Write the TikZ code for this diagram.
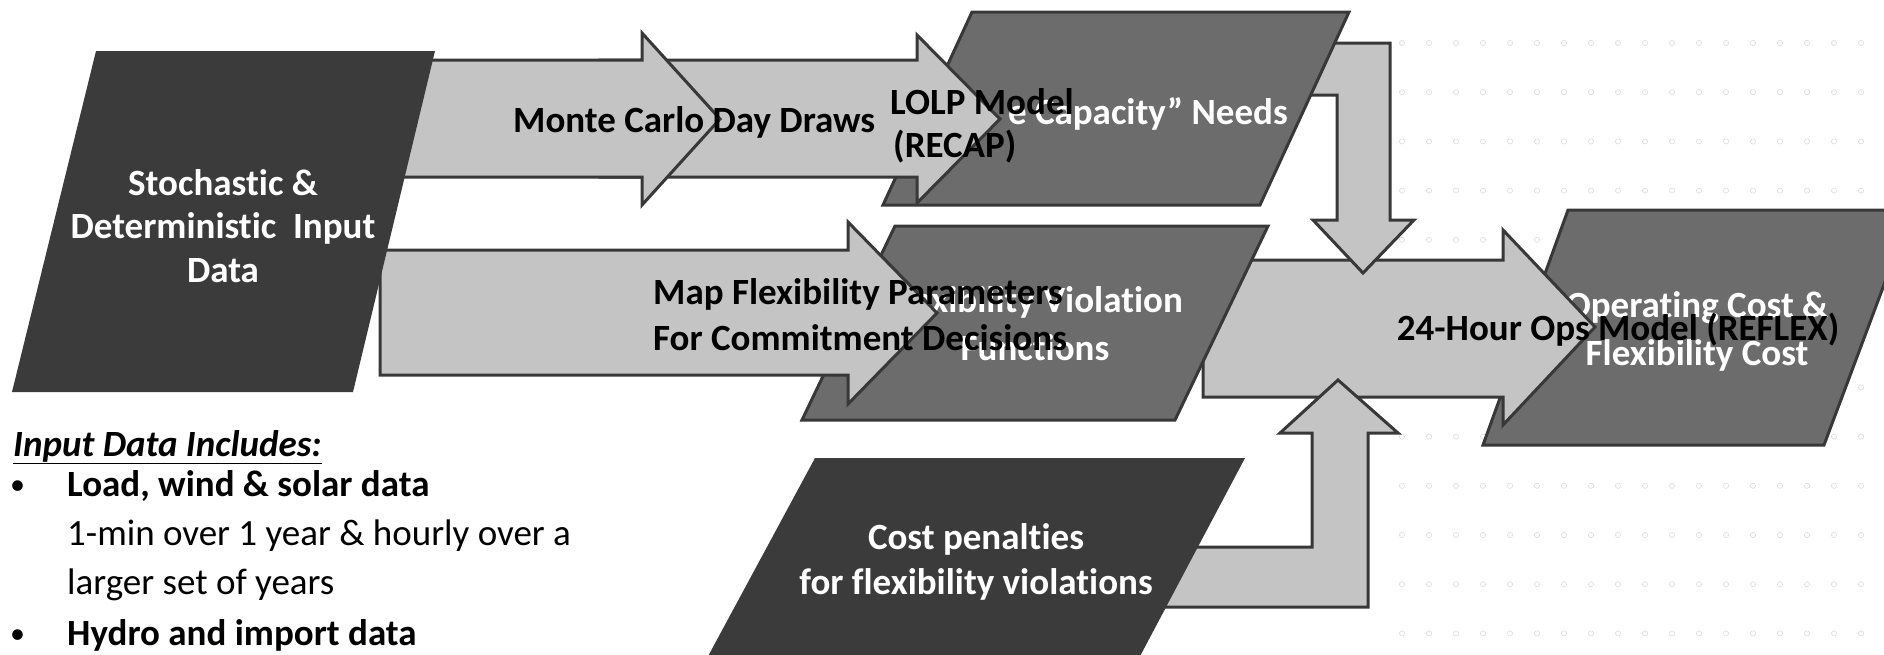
\documentclass[tikz,border=0pt]{standalone}
\usepackage{fontspec}
\setmainfont{Carlito}[Ligatures={NoCommon}]
\definecolor{darkfill}{HTML}{3B3B3B}
\definecolor{midfill}{HTML}{6C6C6C}
\definecolor{arrowfill}{HTML}{C4C4C4}
\definecolor{edgegray}{HTML}{383838}
\definecolor{dotgray}{HTML}{DADADA}
\tikzset{
  lbl/.style={font=\fontsize{37}{44}\selectfont\bfseries, inner sep=0pt, text=black},
  wlbl/.style={lbl, text=white},
  plain/.style={font=\fontsize{37}{44}\selectfont, inner sep=0pt, text=black},
  bulletmark/.style={font=\fontsize{30}{36}\selectfont, inner sep=0pt, text=black},
  blockarrow/.style={fill=arrowfill, draw=edgegray, line width=3pt, line join=miter},
  darkbox/.style={fill=darkfill},
  midbox/.style={fill=midfill, draw=edgegray, line width=3pt, line join=miter},
  bgdot/.style={draw=dotgray, line width=0.6pt}
}
\begin{document}
\begin{tikzpicture}[x=1pt,y=-1pt]
\useasboundingbox (0,0) rectangle (1884,654);
\clip (0,0) rectangle (1884,654);
% faint dotted background rows
\foreach \k in {0,...,12}{
  \foreach \i in {0,...,17}{
    \draw[bgdot] ({1402+27*\i},{43+49.2*\k}) circle (2.6);
  }
}
% Operating cost box
\draw[midbox] (1568,210) -- (1912,210) -- (1824,445) -- (1483,445) -- cycle;
\node[wlbl, anchor=base] (op1) at (1697,317) {Operating Cost \&};
\node[wlbl, anchor=base] (op2) at (1697,365) {Flexibility Cost};
% main REFLEX arrow
\draw[blockarrow] (1203,260) -- (1503,260) -- (1503,230) -- (1595,327) -- (1503,425) -- (1503,397) -- (1203,397) -- cycle;
% elbow arrows into the REFLEX arrow
\draw[blockarrow] (1270,43) -- (1390,43) -- (1390,220) -- (1414,220) -- (1363,273) -- (1313,220) -- (1337,220) -- (1337,95) -- (1270,95) -- cycle;
\draw[blockarrow] (1090,607) -- (1368,607) -- (1368,433) -- (1398,433) -- (1338,380) -- (1280,433) -- (1312,433) -- (1312,547) -- (1090,547) -- cycle;
% capacity box
\draw[midbox] (972,12) -- (1349,12) -- (1260,205) -- (883,205) -- cycle;
\node[wlbl, anchor=base east] (cap) at (1288,124) {e Capacity” Needs};
% flexibility violation box
\draw[midbox] (895,226) -- (1268,226) -- (1175,420) -- (802,420) -- cycle;
\node[wlbl, anchor=base] (fv1) at (1035,312) {Flexibility Violation};
\node[wlbl, anchor=base] (fv2) at (1035,360) {Functions};
% cost penalties box
\fill[darkbox] (815,458) -- (1245,458) -- (1138,660) -- (706,660) -- cycle;
\node[wlbl, anchor=base] (cp1) at (976,549) {Cost penalties};
\node[wlbl, anchor=base] (cp2) at (976,594) {for flexibility violations};
% upper arrows
\draw[blockarrow] (600,60) -- (917,60) -- (917,35) -- (1000,119) -- (917,203) -- (917,177) -- (600,177) -- cycle;
\draw[blockarrow] (380,60) -- (642,60) -- (642,33) -- (720,119) -- (642,205) -- (642,177) -- (380,177) -- cycle;
% lower arrow
\draw[blockarrow] (380,250) -- (848,250) -- (848,222) -- (937,313) -- (848,404) -- (848,375) -- (380,375) -- cycle;
% input data box
\fill[darkbox] (96,51) -- (435,51) -- (353,392) -- (12,392) -- cycle;
\node[wlbl, anchor=base] (in1) at (223,195) {Stochastic \&};
\node[wlbl, anchor=base] (in2) at (223,238) {Deterministic\ \ Input};
\node[wlbl, anchor=base] (in3) at (223,282) {Data};
% arrow labels
\node[lbl, anchor=base west] (mc) at (513,132) {Monte Carlo Day Draws};
\node[lbl, anchor=base west] (lolp1) at (890,114) {LOLP Model};
\node[lbl, anchor=base west] (lolp2) at (893,157) {(RECAP)};
\node[lbl, anchor=base west] (map1) at (653,304) {Map Flexibility Parameters};
\node[lbl, anchor=base west] (map2) at (653,350) {For Commitment Decisions};
\node[lbl, anchor=base] (reflex) at (1618,340) {24-Hour Ops Model (REFLEX)};
% input data list
\node[lbl, anchor=base west] (ilh) at (13,456) {\underline{\textit{Input Data Includes:}}};
\node[bulletmark, anchor=base west] (b1) at (10,494) {•};
\node[lbl, anchor=base west] (il1) at (67,496) {Load, wind \& solar data};
\node[plain, anchor=base west] (il2) at (67,545) {1-min over 1 year \& hourly over a};
\node[plain, anchor=base west] (il3) at (67,594) {larger set of years};
\node[bulletmark, anchor=base west] (b2) at (10,643) {•};
\node[lbl, anchor=base west] (il4) at (67,645) {Hydro and import data};
\end{tikzpicture}
\end{document}
